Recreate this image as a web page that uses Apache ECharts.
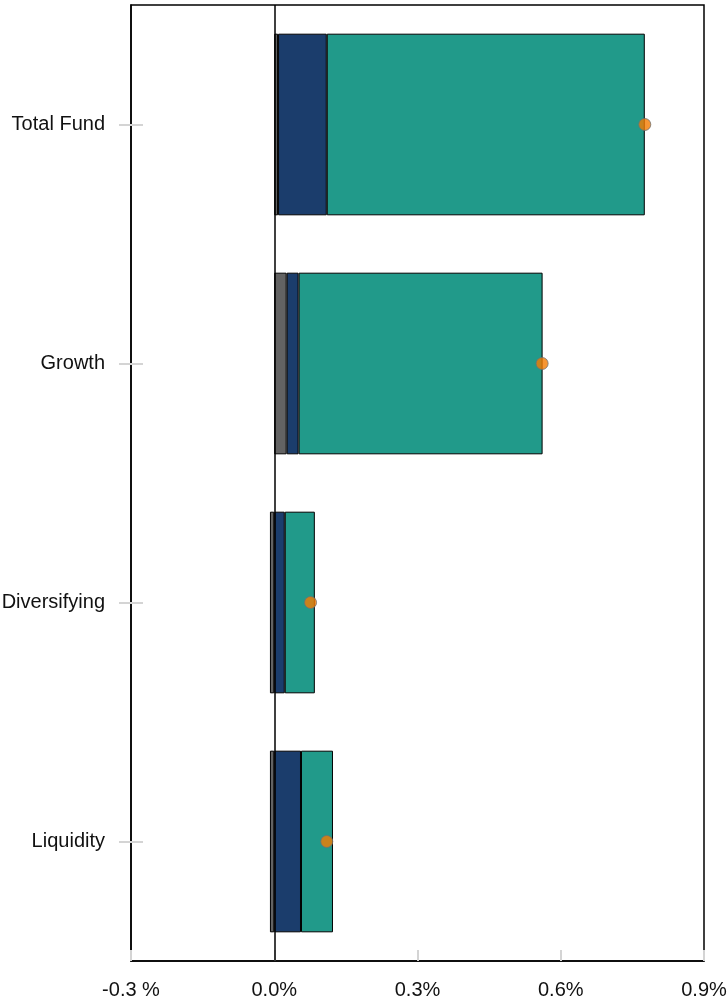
<!DOCTYPE html>
<html>
<head>
<meta charset="utf-8">
<script src="https://cdn.jsdelivr.net/npm/echarts@6/dist/echarts.min.js"></script>
<style>
html,body{margin:0;padding:0;background:#fff;}
#chart{width:728px;height:1004px;}
</style>
</head>
<body>
<div id="chart"></div>
<script>
const categories = ['Total Fund', 'Growth', 'Diversifying', 'Liquidity'];
const graySeg = [0.008, 0.026, -0.009, -0.009];
const blueSeg = [0.102, 0.025, 0.022, 0.056];
const tealSeg = [0.666, 0.511, 0.063, 0.067];
const totalDots = [0.776, 0.561, 0.076, 0.110];
const xTicks = { min: -0.3, max: 0.9, step: 0.3 };

const FONT = '"Liberation Sans", Arial, sans-serif';
const chart = echarts.init(document.getElementById('chart'));

function barSeries(name, data, color) {
  return {
    name: name, type: 'bar', stack: 'attr', data: data,
    barCategoryGap: '24%',
    itemStyle: { color: color, borderColor: '#000', borderWidth: 1 },
    emphasis: { disabled: true }
  };
}

const gs = barSeries('Other', graySeg, '#636363');
gs.markLine = {
  silent: true, symbol: 'none', label: { show: false },
  lineStyle: { color: '#000', width: 1.5, type: 'solid' },
  data: [{ xAxis: 0 }]
};

chart.setOption({
  animation: false,
  grid: {
    left: 131, right: 24, top: 5, bottom: 43,
    containLabel: false, outerBoundsMode: 'none',
    show: true, borderColor: '#000', borderWidth: 1.5, backgroundColor: 'transparent'
  },
  xAxis: {
    type: 'value', min: xTicks.min, max: xTicks.max, interval: xTicks.step,
    axisLine: { show: true, lineStyle: { color: '#000', width: 1.5 } },
    axisTick: { show: true, inside: true, length: 11, lineStyle: { color: '#d4d4d4', width: 2 } },
    splitLine: { show: false },
    axisLabel: {
      margin: 19, color: '#111', fontFamily: FONT, fontSize: 20,
      formatter: function (v) {
        const r = Math.round(v * 10) / 10;
        if (r < 0) return r.toFixed(1) + ' %';
        return r.toFixed(1) + '%';
      }
    }
  },
  yAxis: [{
    type: 'category', data: categories, inverse: true, position: 'left',
    axisLine: { show: true, onZero: false, lineStyle: { color: '#000', width: 1.5 } },
    axisTick: { show: true, alignWithLabel: true, length: 12, lineStyle: { color: '#d4d4d4', width: 2 } },
    axisLabel: { margin: 26, color: '#111', fontFamily: FONT, fontSize: 20 },
    splitLine: { show: false }
  }, {
    type: 'category', data: categories, inverse: true, position: 'left',
    axisLine: { show: false, onZero: false },
    axisTick: { show: true, inside: true, alignWithLabel: true, length: 12, lineStyle: { color: '#d4d4d4', width: 2 } },
    axisLabel: { show: false },
    splitLine: { show: false }
  }],
  series: [
    gs,
    barSeries('Selection', blueSeg, '#1b3d6c'),
    barSeries('Allocation', tealSeg, '#219a8a'),
    {
      name: 'Total', type: 'scatter', data: totalDots, symbolSize: 12, z: 10,
      itemStyle: { color: '#f57c00', borderColor: '#707070', borderWidth: 1 }
    }
  ]
});
</script>
</body>
</html>
